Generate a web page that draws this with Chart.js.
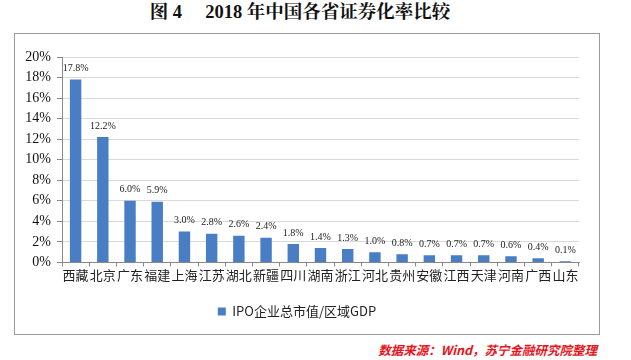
<!DOCTYPE html>
<html><head><meta charset="utf-8">
<script src="https://cdn.jsdelivr.net/npm/chart.js@4/dist/chart.umd.min.js"></script>
<style>
html,body{margin:0;padding:0;background:#fff;width:631px;height:360px;overflow:hidden;position:relative;}
#title{position:absolute;left:0;top:0px;width:600px;text-align:center;font-family:"Liberation Serif","Noto Serif CJK SC","Noto Sans CJK SC",serif;font-weight:bold;font-size:18.5px;line-height:24px;color:#111;white-space:pre;}
#box{position:absolute;left:14px;top:33px;width:584px;height:300px;border:1px solid #9a9a9a;}
#src{position:absolute;right:34px;top:340px;font-family:"Noto Sans CJK SC",sans-serif;font-style:italic;font-weight:bold;font-size:12.5px;color:#e8141c;}
canvas{display:block;}
</style></head>
<body>
<div id="title">图 4     2018 年中国各省证券化率比较</div>
<div id="box"><canvas id="c" width="584" height="300"></canvas></div>
<div id="src">数据来源：Wind，苏宁金融研究院整理</div>
<script>
const categories = ["西藏","北京","广东","福建","上海","江苏","湖北","新疆","四川","湖南","浙江","河北","贵州","安徽","江西","天津","河南","广西","山东"];
const values = [17.8,12.2,6.0,5.9,3.0,2.8,2.6,2.4,1.8,1.4,1.3,1.0,0.8,0.7,0.7,0.7,0.6,0.4,0.1];
const seriesName = "IPO企业总市值/区域GDP";
const yTicks = [0,2,4,6,8,10,12,14,16,18,20];

const labelPlugin = {
  id:'barLabels',
  afterDatasetsDraw(chart){
    const ctx = chart.ctx;
    const meta = chart.getDatasetMeta(0);
    ctx.save();
    ctx.font = '10px "Liberation Serif", serif';
    ctx.fillStyle = '#222';
    ctx.textAlign = 'center';
    ctx.textBaseline = 'bottom';
    meta.data.forEach((bar,i)=>{
      ctx.fillText(values[i].toFixed(1)+'%', bar.x, bar.y-6);
    });
    ctx.restore();
  }
};

new Chart(document.getElementById('c'), {
  type:'bar',
  data:{labels:categories,datasets:[{label:seriesName,data:values,backgroundColor:'#4a7ec4',barPercentage:0.42,categoryPercentage:1.0}]},
  options:{
    responsive:false,animation:false,
    layout:{padding:{left:0,right:20,top:23,bottom:6}},
    plugins:{
      legend:{position:'bottom',labels:{boxWidth:8,boxHeight:8,padding:12,color:'#222',font:{family:'"Noto Sans CJK SC", sans-serif',size:13}}},
      tooltip:{enabled:false}
    },
    scales:{
      x:{
        afterFit(s){ s.height = s.height + 9; },
        grid:{display:true,drawOnChartArea:false,drawTicks:true,tickLength:4,color:'#888',offset:true},
        border:{color:'#888'},
        ticks:{maxRotation:0,minRotation:0,autoSkip:false,padding:1,color:'#222',font:{family:'"Noto Sans CJK SC", sans-serif',size:13}}
      },
      y:{
        min:0,max:20,
        afterBuildTicks(s){ s.ticks = yTicks.map(v=>({value:v})); },
        afterFit(s){ s.width = 47; },
        grid:{color:'#d9d9d9',tickLength:5,tickColor:'#888'},
        border:{color:'#888'},
        ticks:{padding:6,color:'#111',callback:v=>v+'%',font:{family:'"Liberation Serif", serif',size:14}}
      }
    }
  },
  plugins:[labelPlugin]
});
</script>
</body></html>
